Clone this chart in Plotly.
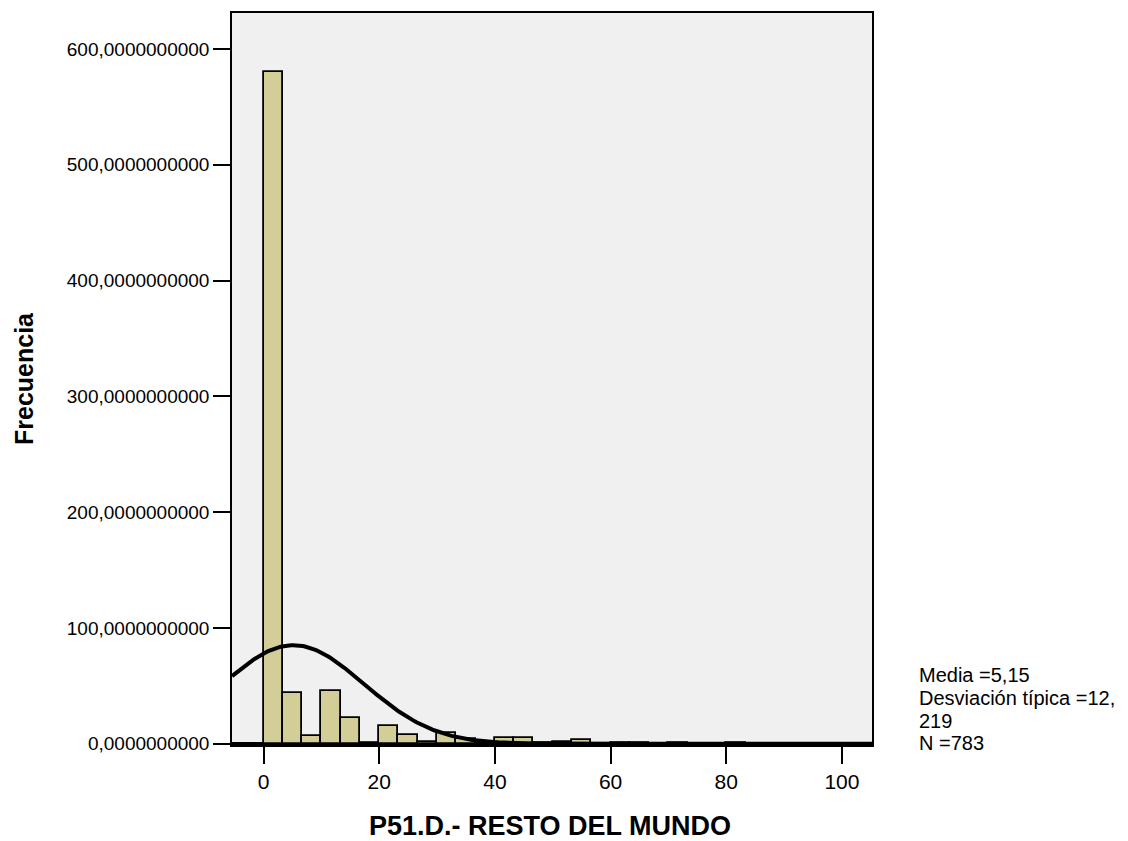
import numpy as np
import plotly.graph_objects as go

# ---- data ----
bin_width = 10 / 3
bin_counts = [580, 44, 7, 46, 22, 1, 15, 8, 2, 9, 4, 1, 5, 5, 1,
              2, 3, 0, 1, 1, 0, 1, 0, 0, 1]
stat_mean = 5.15
stat_sd = 12.219
stat_n = 783

y_ticks = [0, 100, 200, 300, 400, 500, 600]
y_tick_labels = ["0,0000000000", "100,0000000000", "200,0000000000",
                 "300,0000000000", "400,0000000000", "500,0000000000",
                 "600,0000000000"]
x_ticks = [0, 20, 40, 60, 80, 100]
x_tick_labels = ["0", "20", "40", "60", "80", "100"]

x_title = "P51.D.- RESTO DEL MUNDO"
y_title = "Frecuencia"
stat_lines = ["Media =5,15", "Desviación típica =12,", "219", "N =783"]

# ---- geometry: the page body adds an 8px margin, so work in page px minus 8 ----
OFF = 8
W, H = 1128 - OFF, 841 - OFF
L, R, T, B = 232 - OFF, 872 - OFF, 11 - OFF, 745 - OFF
x_range = [-5.45, 105.2]
y_range = [-1, 631]

bin_centers = [(i + 0.5) * bin_width for i in range(len(bin_counts))]

# fitted normal curve (as drawn by the original software from its stats)
xc = np.linspace(x_range[0], x_range[1], 400)
yc = stat_n * bin_width / (stat_sd * np.sqrt(2 * np.pi)) * np.exp(-0.5 * ((xc - stat_mean) / stat_sd) ** 2)

FONT = "Liberation Sans, Arial, sans-serif"

fig = go.Figure()
fig.add_trace(go.Bar(
    x=bin_centers, y=bin_counts, width=bin_width,
    marker=dict(color="#D3CE98", line=dict(color="black", width=1.8)),
    showlegend=False, hoverinfo="x+y"))
fig.add_trace(go.Scatter(
    x=xc, y=yc, mode="lines", line=dict(color="black", width=4),
    showlegend=False, hoverinfo="skip"))


def px_x(px):
    return (px - OFF - L) / (R - L)


def px_y(py):
    return (B - (py - OFF)) / (B - T)


annotations = [
    dict(text=f"<b>{x_title}</b>", x=px_x(550), y=px_y(826), xref="paper", yref="paper",
         showarrow=False, font=dict(family=FONT, size=27, color="black"),
         xanchor="center", yanchor="middle"),
    dict(text=f"<b>{y_title}</b>", x=px_x(24), y=px_y(378), xref="paper", yref="paper",
         showarrow=False, textangle=-90, font=dict(family=FONT, size=25, color="black"),
         xanchor="center", yanchor="middle"),
]
baselines = [681.7, 705, 727.7, 750]
for line, bl in zip(stat_lines, baselines):
    annotations.append(dict(text=line, x=px_x(917), y=px_y(bl - 7), xref="paper", yref="paper",
                            showarrow=False, font=dict(family=FONT, size=20, color="black"),
                            xanchor="left", yanchor="middle", align="left"))

fig.update_layout(
    width=W, height=H,
    margin=dict(l=L, r=W - R, t=T, b=H - B, pad=0),
    paper_bgcolor="white", plot_bgcolor="#F0F0F0",
    bargap=0,
    annotations=annotations,
    font=dict(family=FONT, size=20, color="black"),
)
fig.update_xaxes(
    range=x_range, tickvals=x_ticks, ticktext=x_tick_labels,
    ticks="outside", ticklen=17, tickwidth=2, tickcolor="black",
    showline=True, linecolor="black", linewidth=2, mirror=True,
    showgrid=False, zeroline=False, tickfont=dict(family=FONT, size=21))
fig.update_yaxes(
    range=y_range, tickvals=y_ticks, ticktext=y_tick_labels,
    ticks="outside", ticklen=17, tickwidth=2, tickcolor="black",
    showline=True, linecolor="black", linewidth=1.5, mirror=True,
    showgrid=False, zeroline=True, zerolinecolor="black", zerolinewidth=3,
    tickfont=dict(family=FONT, size=19))

fig.write_html("out.html")
